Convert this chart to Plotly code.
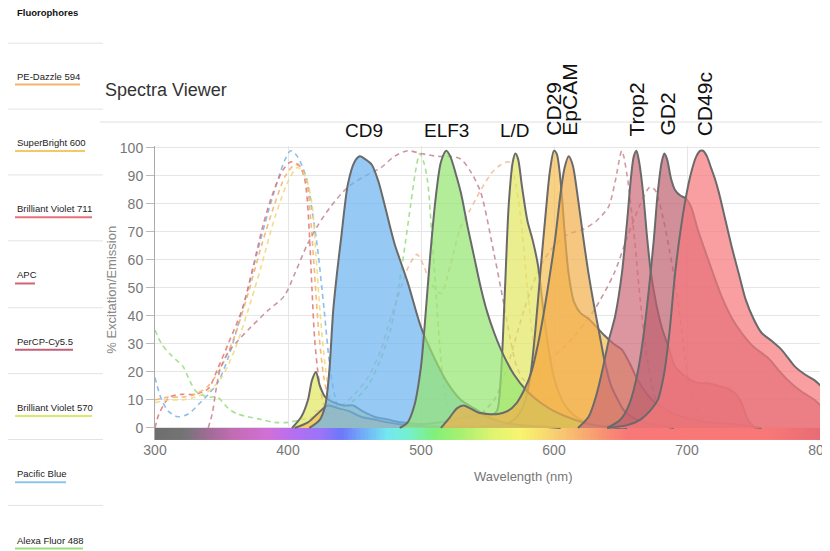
import numpy as np
import plotly.graph_objects as go

# ---------------- data ----------------
fluorophores = ["PE-Dazzle 594", "SuperBright 600", "Brilliant Violet 711", "APC",
                "PerCP-Cy5.5", "Brilliant Violet 570", "Pacific Blue", "Alexa Fluor 488"]

markers = ["CD9", "ELF3", "L/D", "CD29", "EpCAM", "Trop2", "GD2", "CD49c"]
marker_nm = [457, 519, 571, 599, 611, 662, 685, 713]

x_ticks = [300, 400, 500, 600, 700, 800]
y_ticks = [0, 10, 20, 30, 40, 50, 60, 70, 80, 90, 100]

# excitation spectra (dashed)
pb_ex_nm = [300, 305, 310, 317, 325, 334, 340, 347, 355, 362, 370, 377, 385, 392, 397, 402, 407, 414, 418, 422, 427, 432, 437, 442, 450, 460]
pb_ex_v = [18, 10, 6, 4, 5, 9, 12, 16, 25, 36, 50, 63, 77, 88, 95, 99, 97, 89, 78, 65, 43, 20, 8, 3, 1, 0]

bv711_ex_nm = [300, 303, 311, 320, 330, 340, 347, 355, 366, 374, 381, 388, 396, 402, 408, 412, 414, 416, 418, 420, 423, 427, 432, 440, 450]
bv711_ex_v = [0, 5, 11, 12, 12, 14, 21, 30, 43, 58, 72, 83, 92, 95, 94, 90, 84, 70, 50, 32, 18, 8, 3, 1, 0]

sb600_ex_nm = [300, 310, 320, 330, 340, 350, 360, 370, 380, 390, 398, 405, 410, 414, 417, 420, 423, 427, 432, 440, 450]
sb600_ex_v = [10, 11, 11, 12, 15, 22, 33, 48, 65, 80, 90, 94, 93, 88, 75, 55, 35, 18, 8, 3, 0]

bv570_ex_nm = [300, 310, 320, 330, 340, 350, 360, 370, 380, 390, 400, 407, 413, 418, 421, 424, 428, 433, 440, 450]
bv570_ex_v = [9, 10, 10, 11, 13, 18, 28, 42, 58, 75, 88, 93, 90, 80, 62, 42, 22, 8, 3, 0]

af488_ex_nm = [300, 305, 312, 321, 326, 331, 340, 347, 355, 362, 370, 380, 390, 400, 410, 420, 430, 440, 450, 460, 470, 477, 482, 487, 492, 496, 499, 502, 505, 508, 511, 514, 517, 520, 525, 530, 540]
af488_ex_v = [35, 30, 26, 22, 17, 13, 11, 11, 7, 5, 4, 3, 2, 2, 3, 4, 5, 7, 10, 15, 25, 35, 47, 62, 79, 92, 98, 95, 88, 70, 50, 30, 15, 7, 3, 1, 0]

percp_ex_nm = [340, 343, 346, 349, 355, 362, 372, 385, 397, 405, 414, 422, 432, 445, 458, 470, 480, 490, 500, 513, 522, 530, 538, 545, 555, 562, 567, 572, 578, 590, 610, 630, 645, 655, 665, 672, 676, 682, 687, 691, 696, 700, 706, 712, 720]
percp_ex_v = [0, 5, 14, 21, 27, 31, 36, 42, 47, 55, 65, 72, 79, 86, 90, 93, 97, 99, 98, 97, 97, 96, 91, 84, 62, 45, 32, 22, 17, 22, 30, 42, 55, 68, 80, 86, 85, 75, 63, 52, 35, 20, 8, 3, 0]

ped_ex_nm = [420, 440, 450, 460, 470, 475, 485, 490, 497, 502, 507, 515, 522, 530, 537, 545, 553, 560, 566, 570, 575, 580, 585, 590, 595, 600, 610, 620]
ped_ex_v = [6, 8, 12, 18, 28, 36, 50, 57, 62, 58, 52, 48, 58, 72, 78, 85, 91, 94, 95, 90, 75, 50, 28, 15, 8, 4, 1, 0]

apc_ex_nm = [540, 555, 565, 578, 590, 600, 610, 622, 632, 641, 646, 651, 655, 660, 665, 670, 678, 690]
apc_ex_v = [3, 10, 22, 43, 58, 65, 69, 71, 74, 79, 88, 99, 90, 70, 45, 25, 8, 0]

# emission spectra (filled)
pb_em_nm = [416, 424, 428, 431, 434, 437, 440, 445, 450, 454, 458, 463, 468, 473, 480, 490, 500, 510, 520, 530, 540, 550, 562, 575, 590, 605]
pb_em_v = [0, 3, 8, 20, 42, 56, 68, 87, 95, 97, 96, 94, 88, 79, 66, 52, 36, 25, 16, 10, 7, 4, 2, 1, 0.5, 0]

af488_em_nm = [484, 490, 495, 500, 503, 507, 511, 515, 519, 522, 526, 530, 535, 540, 545, 550, 555, 562, 570, 580, 590, 600, 615, 630, 650]
af488_em_v = [0, 2, 8, 22, 38, 62, 82, 95, 99, 97, 91, 84, 72, 61, 50, 41, 34, 26, 19, 13, 9, 6, 3, 1, 0]

bv570_em_nm = [403, 410, 415, 418, 421, 424, 428, 435, 442, 449, 456, 465, 475, 485, 495, 505, 515, 525, 535, 545, 552, 557, 560, 563, 566, 569, 571, 573, 576, 580, 584, 588, 592, 596, 600, 606, 614, 625, 640, 655]
bv570_em_v = [0, 4, 10, 17, 20, 15, 11, 9, 8, 8, 6, 4, 3, 2, 1.5, 1.5, 2, 3, 4, 4.5, 4.5, 6, 18, 48, 80, 95, 98, 96, 86, 74, 67, 58, 42, 28, 18, 10, 5, 2, 0.5, 0]

sb600_em_nm = [405, 415, 422, 430, 438, 446, 455, 465, 475, 490, 510, 540, 560, 570, 577, 582, 586, 590, 594, 597, 600, 602, 605, 608, 611, 615, 620, 626, 632, 638, 645, 651, 657, 663, 670, 676, 686, 696, 706, 716, 730, 742, 756]
sb600_em_v = [0, 2, 5, 8, 7, 6, 4, 3, 2, 1, 0.5, 0.5, 1, 3, 8, 18, 35, 57, 78, 92, 99, 98, 88, 70, 55, 45, 41, 39, 36, 33, 30, 28, 23, 17, 12, 9, 6, 4, 3, 2, 1.5, 1, 0]

ped_em_nm = [515, 522, 527, 532, 537, 543, 550, 558, 565, 572, 578, 583, 588, 593, 597, 601, 605, 608, 611, 614, 618, 622, 626, 630, 634, 638, 643, 648, 653, 660, 668, 678, 690]
ped_em_v = [0, 4, 7, 8, 7, 5.5, 5, 5, 6, 9, 14, 20, 30, 43, 55, 68, 84, 93, 97, 94, 82, 68, 55, 44, 34, 24, 15, 10, 6, 3.5, 2, 1, 0]

apc_em_nm = [618, 626, 632, 637, 641, 646, 651, 655, 658, 660, 662, 664, 667, 670, 673, 677, 681, 686, 691, 697, 703, 710, 716, 724, 731, 737, 741, 744, 747, 752]
apc_em_v = [0, 4, 12, 22, 31, 40, 55, 74, 90, 97, 99, 95, 84, 68, 55, 44, 36, 29, 22, 19, 17, 16, 16, 15, 14, 12, 9, 5, 2, 0]

percp_em_nm = [640, 650, 657, 663, 667, 671, 675, 678, 681, 683, 685, 688, 691, 695, 699, 703, 708, 716, 726, 734, 741, 750, 761, 770, 776, 786, 796, 805, 815]
percp_em_v = [0, 3, 9, 20, 32, 48, 67, 84, 95, 98, 96, 89, 85, 83, 82, 79, 71, 60, 47, 39, 34, 29, 25, 20, 17, 13, 10, 6, 4]

bv711_em_nm = [640, 655, 665, 672, 678, 683, 687, 691, 695, 699, 703, 707, 710, 712, 715, 718, 721, 724, 729, 734, 739, 744, 750, 756, 764, 771, 776, 781, 789, 796, 803, 810, 820]
bv711_em_v = [0, 1, 3, 6, 10, 20, 35, 55, 70, 82, 91, 97, 99, 99, 97, 93, 89, 84, 74, 64, 55, 46, 39, 34, 31, 28, 25, 22, 19, 17, 14, 12, 9]

# ---------------- styling ----------------
OFF = 8  # page body margin in the browser
W, H = 830 - OFF, 551 - OFF
L, R = 155 - OFF, 10
T = 146 - OFF
B = H - (440.5 - OFF)
PW, PH = W - L - R, H - T - B
FONT = "Arial, Liberation Sans, sans-serif"


def px(xw):  # window pixel -> paper x
    return (xw - OFF - L) / PW


def py(yw):  # window pixel -> paper y
    return (H - B - (yw - OFF)) / PH


fig = go.Figure()

# wavelength colour bar
bar_stops = [(300, '#6e6e6e'), (322, '#747474'), (340, '#a06c96'), (360, '#c46cb4'),
             (385, '#d070d6'), (405, '#b46ef2'), (425, '#9a74f8'), (440, '#6c78f8'),
             (455, '#72a8f6'), (475, '#74e8f0'), (490, '#74f0d0'), (510, '#80f078'),
             (530, '#a8f070'), (555, '#e0f470'), (575, '#f8f470'), (600, '#f8d070'),
             (620, '#f8b070'), (640, '#f88c74'), (655, '#f87878'), (760, '#f87878'),
             (800, '#e86c74')]
cscale = [[(s - 300) / 500, c] for s, c in bar_stops]
edges = np.arange(300, 802, 2)
centers = (edges[:-1] + edges[1:]) / 2
fig.add_trace(go.Heatmap(x=edges, y=[-4.3, 0], z=[centers], colorscale=cscale,
                         zmin=300, zmax=800, showscale=False, hoverinfo='skip'))

dash = "5px,4px"
ex_series = [
    (pb_ex_nm, pb_ex_v, 'rgba(120,180,230,0.85)'),
    (bv711_ex_nm, bv711_ex_v, 'rgba(225,115,115,0.85)'),
    (sb600_ex_nm, sb600_ex_v, 'rgba(242,175,100,0.85)'),
    (bv570_ex_nm, bv570_ex_v, 'rgba(240,215,120,0.85)'),
    (af488_ex_nm, af488_ex_v, 'rgba(150,220,125,0.85)'),
    (percp_ex_nm, percp_ex_v, 'rgba(195,130,145,0.85)'),
    (ped_ex_nm, ped_ex_v, 'rgba(242,185,140,0.85)'),
    (apc_ex_nm, apc_ex_v, 'rgba(205,135,145,0.85)'),
]
for xs, ys, col in ex_series:
    fig.add_trace(go.Scatter(x=xs, y=ys, mode='lines',
                             line=dict(color=col, width=1.6, dash=dash, shape='spline', smoothing=0.8),
                             hoverinfo='skip', showlegend=False))

outline = '#6a6a6a'
em_series = [
    (bv570_em_nm, bv570_em_v, 'rgba(226,232,100,0.72)'),
    (sb600_em_nm, sb600_em_v, 'rgba(246,190,80,0.70)'),
    (pb_em_nm, pb_em_v, 'rgba(110,180,238,0.72)'),
    (af488_em_nm, af488_em_v, 'rgba(150,230,115,0.72)'),
    (ped_em_nm, ped_em_v, 'rgba(242,175,75,0.70)'),
    (apc_em_nm, apc_em_v, 'rgba(205,105,120,0.70)'),
    (percp_em_nm, percp_em_v, 'rgba(190,95,110,0.70)'),
    (bv711_em_nm, bv711_em_v, 'rgba(246,120,125,0.72)'),
]
for xs, ys, col in em_series:
    fig.add_trace(go.Scatter(x=xs, y=ys, mode='lines', fill='tozeroy', fillcolor=col,
                             line=dict(color=outline, width=2, shape='spline', smoothing=0.8),
                             hoverinfo='skip', showlegend=False))

annotations = []
shapes = []

# sidebar
annotations.append(dict(x=px(15), y=py(12), xref='paper', yref='paper', text="<b>Fluorophores</b>",
                        showarrow=False, xanchor='left', yanchor='middle',
                        font=dict(family=FONT, size=9.5, color='#111')))
sep_y = [43, 109, 175, 241, 308, 374, 440, 506]
for yy in sep_y:
    shapes.append(dict(type='line', xref='paper', yref='paper', x0=px(8), x1=px(103),
                       y0=py(yy), y1=py(yy), line=dict(color='#e3e3e3', width=1)))
underline_cols = ['#f3b56a', '#f4c868', '#e8707c', '#d06676', '#c0607a', '#dce86a', '#8cc4ec', '#9be07e']
underline_w = [65, 70, 77, 20, 58, 77, 51, 68]
for i, name in enumerate(fluorophores):
    yc = 76 + i * 66.4
    annotations.append(dict(x=px(15), y=py(yc), xref='paper', yref='paper', text=name,
                            showarrow=False, xanchor='left', yanchor='middle',
                            font=dict(family=FONT, size=9.5, color='#222')))
    shapes.append(dict(type='line', xref='paper', yref='paper', x0=px(15), x1=px(15 + underline_w[i]),
                       y0=py(yc + 8.5), y1=py(yc + 8.5), line=dict(color=underline_cols[i], width=2)))

# header
annotations.append(dict(x=px(103), y=py(90), xref='paper', yref='paper', text="Spectra Viewer",
                        showarrow=False, xanchor='left', yanchor='middle',
                        font=dict(family=FONT, size=18, color='#333')))
shapes.append(dict(type='line', xref='paper', yref='paper', x0=px(100), x1=px(830),
                   y0=py(122), y1=py(122), line=dict(color='#e0e0e0', width=1)))

# marker labels
for m, xm in zip(markers, marker_nm):
    if m in ("CD9", "ELF3", "L/D"):
        annotations.append(dict(x=xm, y=py(130), xref='x', yref='paper', text=m, showarrow=False,
                                xanchor='center', yanchor='middle',
                                font=dict(family=FONT, size=19, color='#111')))
    else:
        annotations.append(dict(x=xm, y=py(138), xref='x', yref='paper', text=m, showarrow=False,
                                textangle=-90, xanchor='center', yanchor='bottom',
                                font=dict(family=FONT, size=21, color='#111')))

# axis titles
annotations.append(dict(x=px(112), y=py(290), xref='paper', yref='paper', text="% Excitation/Emission",
                        showarrow=False, textangle=-90, xanchor='center', yanchor='middle',
                        font=dict(family=FONT, size=13, color='#888')))
annotations.append(dict(x=px(523), y=py(477), xref='paper', yref='paper', text="Wavelength (nm)",
                        showarrow=False, xanchor='center', yanchor='middle',
                        font=dict(family=FONT, size=13, color='#777')))

fig.update_layout(
    width=W, height=H,
    margin=dict(l=L, r=R, t=T, b=B, pad=0, autoexpand=False),
    paper_bgcolor='white', plot_bgcolor='white',
    showlegend=False,
    annotations=annotations, shapes=shapes,
    xaxis=dict(range=[300, 800], tickvals=x_ticks, ticktext=[str(v) for v in x_ticks],
               showgrid=True, gridcolor='#e6e6e6', zeroline=False, showline=False,
               ticklabeloverflow='allow', automargin=False,
               tickfont=dict(family=FONT, size=14, color='#777'), ticks=''),
    yaxis=dict(range=[-4.3, 100.7], tickvals=y_ticks, showgrid=True, gridcolor='#e6e6e6',
               zeroline=False, showline=True, linecolor='#aaa', linewidth=1,
               ticks='outside', ticklen=8, tickcolor='#bbb', automargin=False,
               tickfont=dict(family=FONT, size=14, color='#777')),
)

fig.write_html("out.html")
